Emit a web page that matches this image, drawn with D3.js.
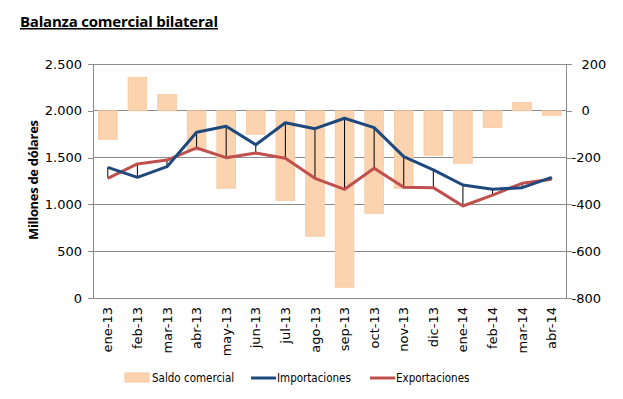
<!DOCTYPE html>
<html lang="es">
<head>
<meta charset="UTF-8">
<title>Balanza comercial bilateral</title>
<script src="https://cdn.jsdelivr.net/npm/d3@7/dist/d3.min.js"></script>
<style>
*{margin:0;padding:0}
body{background:#fff;width:623px;height:399px;overflow:hidden}
svg{display:block}
</style>
</head>
<body>
<svg id="chart" width="623" height="399"></svg>
<script>
// data
const months = ["ene-13","feb-13","mar-13","abr-13","may-13","jun-13","jul-13","ago-13","sep-13","oct-13","nov-13","dic-13","ene-14","feb-14","mar-14","abr-14"];
const importaciones = [1396,1289,1403,1770,1834,1638,1873,1809,1920,1820,1510,1368,1207,1161,1179,1289];
const exportaciones = [1279,1432,1474,1603,1499,1549,1492,1279,1161,1386,1183,1179,983,1100,1225,1268];
const saldo = [-122,143,70,-168,-331,-100,-383,-536,-754,-438,-331,-190,-224,-72,36,-19];
const leftTicks = [0,500,1000,1500,2000,2500];
const rightTicks = [-800,-600,-400,-200,0,200];

const fmt = d => d3.format(",")(d).replace(/,/g, ".");
const svg = d3.select("#chart");
const font = "'DejaVu Sans', Verdana, sans-serif";
const m = {l: 93, r: 566.5, t: 64, b: 298};

const x = d3.scaleBand().domain(months).range([m.l, m.r]).paddingInner(0.37).paddingOuter(0.185);
const xc = d => x(d) + x.bandwidth() / 2;
const yL = d3.scaleLinear().domain([0, 2500]).range([m.b, m.t]);
const yR = d3.scaleLinear().domain([-800, 200]).range([m.b, m.t]);

// title
svg.append("text").attr("x", 20).attr("y", 27).attr("font-family", "'Open Sans', sans-serif")
  .attr("font-weight", "bold").attr("font-size", "15px").attr("fill", "#000")
  .attr("text-decoration", "underline").attr("textLength", 198).text("Balanza comercial bilateral");

// gridlines
svg.append("g").selectAll("line").data(leftTicks).join("line")
  .attr("x1", m.l).attr("x2", m.r).attr("y1", d => yL(d)).attr("y2", d => yL(d))
  .attr("stroke", "#8c8c8c").attr("stroke-width", 1).attr("shape-rendering", "crispEdges");

// bars (right axis)
svg.append("g").selectAll("rect").data(saldo).join("rect")
  .attr("x", (d, i) => x(months[i])).attr("width", x.bandwidth())
  .attr("y", d => yR(Math.max(0, d))).attr("height", d => Math.abs(yR(d) - yR(0)))
  .attr("fill", "#fbd3ae").attr("stroke", "#f6c8a0").attr("stroke-width", 0.8);

// axes
const axL = svg.append("g").attr("transform", `translate(${m.l},0)`)
  .call(d3.axisLeft(yL).tickValues(leftTicks).tickFormat(fmt).tickSize(5).tickPadding(6));
const axR = svg.append("g").attr("transform", `translate(${m.r},0)`)
  .call(d3.axisRight(yR).tickValues(rightTicks).tickFormat(d => String(d)).tickSize(5).tickPadding(12));
const axB = svg.append("g").attr("transform", `translate(0,${m.b})`)
  .call(d3.axisBottom(x).tickSize(0).tickPadding(8));
[axL, axR, axB].forEach(a => {
  a.select(".domain").attr("stroke", "#8c8c8c").attr("shape-rendering", "crispEdges");
  a.selectAll(".tick line").attr("stroke", "#8c8c8c").attr("shape-rendering", "crispEdges");
  a.selectAll("text").attr("font-family", font).attr("font-size", "13px").attr("fill", "#000");
});
axL.select(".domain").attr("d", `M0,${m.t}V${m.b}`);
axR.select(".domain").attr("d", `M0,${m.t}V${m.b}`);
axB.select(".domain").attr("d", `M${m.l},0H${m.r}`);
// minus sign hangs left of the digits, like the original
axR.selectAll(".tick text").attr("x", d => d < 0 ? 5 : 15);
axB.selectAll("text").attr("transform", "rotate(-90)").attr("text-anchor", "end")
  .attr("x", -9).attr("y", 0).attr("dy", "0.35em");

// high-low lines
svg.append("g").selectAll("line").data(months).join("line")
  .attr("x1", d => xc(d)).attr("x2", d => xc(d))
  .attr("y1", (d, i) => yL(importaciones[i])).attr("y2", (d, i) => yL(exportaciones[i]))
  .attr("stroke", "#000").attr("stroke-width", 1);

// lines
const line = d3.line().x((d, i) => xc(months[i])).y(d => yL(d));
svg.append("path").datum(exportaciones).attr("d", line).attr("fill", "none")
  .attr("stroke", "#c0504d").attr("stroke-width", 3).attr("stroke-linejoin", "round");
svg.append("path").datum(importaciones).attr("d", line).attr("fill", "none")
  .attr("stroke", "#1f497d").attr("stroke-width", 3).attr("stroke-linejoin", "round");

// y axis title
svg.append("text").attr("transform", "translate(38,180) rotate(-90)").attr("text-anchor", "middle")
  .attr("font-family", "'Open Sans', sans-serif").attr("font-weight", "bold").attr("font-size", "13px")
  .attr("textLength", 120).text("Millones de dólares");

// legend
const lg = svg.append("g").attr("font-family", "'DejaVu Sans Condensed', 'DejaVu Sans', sans-serif")
  .attr("font-size", "11.5px").attr("fill", "#000");
lg.append("rect").attr("x", 125).attr("y", 373).attr("width", 24).attr("height", 9)
  .attr("fill", "#fbd3ae").attr("stroke", "#f6c8a0");
lg.append("text").attr("x", 152).attr("y", 382).text("Saldo comercial");
lg.append("line").attr("x1", 251).attr("x2", 276).attr("y1", 378).attr("y2", 378)
  .attr("stroke", "#1f497d").attr("stroke-width", 3);
lg.append("text").attr("x", 277).attr("y", 382).text("Importaciones");
lg.append("line").attr("x1", 370).attr("x2", 395).attr("y1", 378).attr("y2", 378)
  .attr("stroke", "#c0504d").attr("stroke-width", 3);
lg.append("text").attr("x", 396).attr("y", 382).text("Exportaciones");
</script>
</body>
</html>
